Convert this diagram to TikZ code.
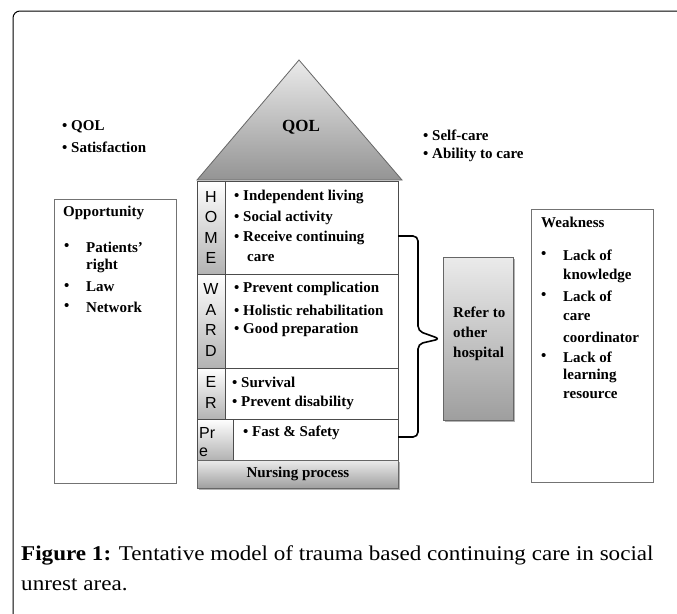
\documentclass[tikz,border=0pt]{standalone}
\usepackage{fontspec}
\setmainfont{Liberation Serif}
\newfontfamily\letterfont{Liberation Sans}
\newfontfamily\capfont[FakeStretch=1.1]{Liberation Serif}
\usetikzlibrary{positioning,calc,shadows}
\tikzset{
  item/.style={anchor=west, inner sep=0pt, font=\bfseries\fontsize{15}{20}\selectfont},
  letter/.style={inner sep=0pt, font=\letterfont\fontsize{16}{20}\selectfont},
  cell/.style={draw=black!70, line width=0.6pt, fill=white},
  lettercell/.style={draw=black!70, line width=0.6pt, top color=white, bottom color=black!30},
  sidebox/.style={draw=black!55, line width=1pt, fill=white},
  greybox/.style={draw=black!60, line width=0.8pt, top color=black!8, bottom color=black!38,
    drop shadow={shadow xshift=1.5pt, shadow yshift=-1.5pt, opacity=0.6}},
  brace/.style={line width=1.6pt, rounded corners=5pt},
}

\begin{document}
\begin{tikzpicture}[x=1pt,y=-1pt]
  \useasboundingbox (0,0) rectangle (677,613);
  % frame of the figure
  \draw[line width=1pt, rounded corners=7pt] (13,640) -- (13,11) -- (700,11);

  % roof
  \draw[draw=black!60, line width=0.8pt, top color=black!8, bottom color=black!42]
    (197,180) -- (299,60) -- (402,180) -- cycle;
  \node[font=\bfseries\fontsize{17}{20}\selectfont] (roof) at (301,127) {QOL};

  % house rows
  \draw[cell] (197,181) rectangle (398,274);
  \draw[lettercell] (197,181) rectangle (225,274);
  \draw[cell] (197,274) rectangle (398,368);
  \draw[lettercell] (197,274) rectangle (225,368);
  \draw[cell] (197,368) rectangle (398,419);
  \draw[lettercell] (197,368) rectangle (225,419);
  \draw[cell] (197,419) rectangle (398,460);
  \draw[lettercell] (197,419) rectangle (233,460);
  \node[greybox, minimum width=201pt, minimum height=28pt, anchor=north west, inner sep=0pt,
    font=\bfseries\fontsize{15}{18}\selectfont] (nursing) at (197,460) {Nursing process};

  \foreach \l [count=\i from 0] in {H,O,M,E}
    \node[letter] (home\i) at (211,{197+20.3*\i}) {\l};
  \foreach \l [count=\i from 0] in {W,A,R,D}
    \node[letter] (ward\i) at (211,{289+20.5*\i}) {\l};
  \foreach \l [count=\i from 0] in {E,R}
    \node[letter] (er\i) at (211,{382+21*\i}) {\l};
  \node[letter, anchor=west] (pre0) at (199,433) {Pr};
  \node[letter, anchor=west] (pre1) at (199,452) {e};

  % items in the rows
  \node[item] (hi1) at (234,197) {\textbullet\ Independent living};
  \node[item] (hi2) at (234,218) {\textbullet\ Social activity};
  \node[item] (hi3) at (234,238) {\textbullet\ Receive continuing};
  \node[item] (hi4) at (247,258) {care};
  \node[item] (wi1) at (234,289) {\textbullet\ Prevent complication};
  \node[item] (wi2) at (234,310) {\textbullet\ Holistic rehabilitation};
  \node[item] (wi3) at (234,330) {\textbullet\ Good preparation};
  \node[item] (ei1) at (232,382) {\textbullet\ Survival};
  \node[item] (ei2) at (232,403) {\textbullet\ Prevent disability};
  \node[item] (pi1) at (243,433) {\textbullet\ Fast \& Safety};

  % outcomes beside the roof
  \node[item] (qol) at (62,127) {\textbullet\ QOL};
  \node[item] (sat) at (62,147) {\textbullet\ Satisfaction};
  \node[item] (self) at (423,135) {\textbullet\ Self-care};
  \node[item] (able) at (423,155) {\textbullet\ Ability to care};

  % opportunity and weakness
  \draw[sidebox] (54,199) rectangle (176,483);
  \node[item] (opp) at (63,213) {Opportunity};
  \foreach \t/\y in {Patients’/247, Law/287, Network/307}
    \node[item] (o\y) at (86,\y) {\t};
  \node[item] (o266) at (86,266) {right};
  \foreach \y in {247,287,307}
    \node[item] at (64,\y) {\textbullet};

  \draw[sidebox] (531,209) rectangle (653,482);
  \node[item] (weak) at (541,222) {Weakness};
  \foreach \t/\y in {Lack of/255, knowledge/276, Lack of/296, care/317, coordinator/337,
                     Lack of/357, learning/376, resource/395}
    \node[item] (w\y) at (563,\y) {\t};
  \foreach \y in {255,296,357}
    \node[item] at (541,\y) {\textbullet};

  % referral
  \node[greybox, minimum width=70pt, minimum height=163pt, anchor=north west, inner sep=0pt]
    (refer) at (443,257) {};
  \node[item, align=left, anchor=north west] (refertxt) at (453,307)
    {Refer to\\other\\hospital};

  \coordinate (bt) at (398,236);
  \coordinate (bb) at (398,437);
  \coordinate (tip) at ([xshift=-3pt]refer.west);
  \draw[brace] (bt) -- ++(20,0) -- (418,331) -- (tip) -- (418,344) -- (418,437) -- (bb);

  % caption
  \node[anchor=west, inner sep=0pt, font=\capfont\fontsize{21}{30}\selectfont, align=left] (cap) at (21,568)
    {\textbf{Figure 1:} Tentative model of trauma based continuing care in social\\unrest area.};
\end{tikzpicture}
\end{document}
